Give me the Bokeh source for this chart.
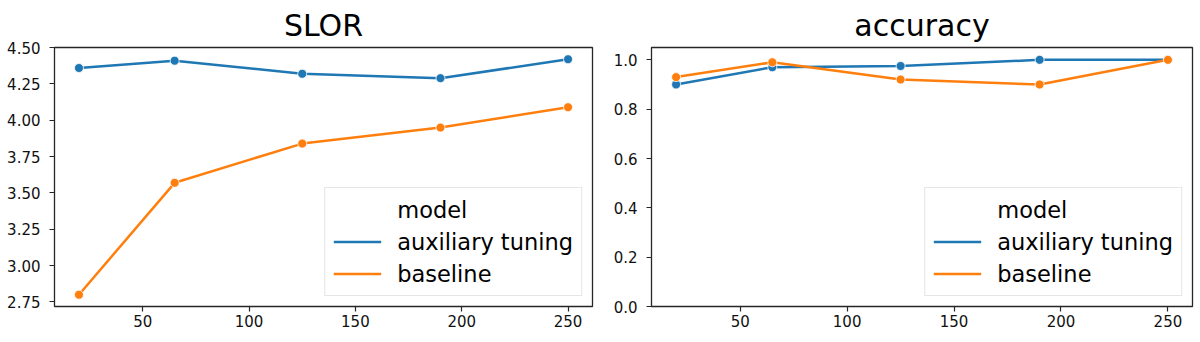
from bokeh.plotting import figure
from bokeh.models import (Range1d, FixedTicker, NumeralTickFormatter, Legend, LegendItem,
                          ColumnDataSource)
from bokeh.layouts import row
from bokeh.embed import file_html
from bokeh.resources import INLINE

# ---- data ----
steps = [20, 65, 125, 190, 250]
model_names = ["auxiliary tuning", "baseline"]
slor_aux = [4.36, 4.41, 4.32, 4.29, 4.42]
slor_base = [2.80, 3.57, 3.84, 3.95, 4.09]
acc_aux = [0.90, 0.97, 0.975, 1.00, 1.00]
acc_base = [0.93, 0.99, 0.92, 0.90, 1.00]
x_ticks = [50, 100, 150, 200, 250]
slor_ticks = [2.75, 3.00, 3.25, 3.50, 3.75, 4.00, 4.25, 4.50]
acc_ticks = [0.0, 0.2, 0.4, 0.6, 0.8, 1.0]

COLORS = ["#1f77b4", "#ff7f0e"]
FONT = "DejaVu Sans"
FRAME = "#262626"


def make_panel(title, series, yticks, yfmt, yrange, left_border):
    xmin, xmax = min(steps), max(steps)
    xpad = 0.05 * (xmax - xmin)
    p = figure(width=600, height=342, output_backend="svg", toolbar_location=None,
               x_range=Range1d(xmin - xpad, xmax + xpad), y_range=Range1d(*yrange),
               min_border_left=left_border, min_border_right=8,
               min_border_top=44, min_border_bottom=36)
    p.title.text = title
    p.title.align = "center"
    p.title.text_font = FONT
    p.title.text_font_size = "30px"
    p.title.text_font_style = "normal"
    p.title.text_color = "#000000"
    p.xgrid.visible = False
    p.ygrid.visible = False
    p.outline_line_color = FRAME
    p.outline_line_width = 1.3
    p.outline_line_alpha = 1.0
    p.background_fill_color = "white"
    p.border_fill_color = "white"

    p.xaxis.ticker = FixedTicker(ticks=x_ticks)
    p.yaxis.ticker = FixedTicker(ticks=yticks)
    p.yaxis.formatter = NumeralTickFormatter(format=yfmt)
    for ax in (p.xaxis, p.yaxis):
        ax.axis_line_color = None
        ax.major_tick_line_color = FRAME
        ax.major_tick_line_width = 1.2
        ax.major_tick_out = 5
        ax.major_tick_in = 0
        ax.minor_tick_line_color = None
        ax.major_label_text_font = FONT
        ax.major_label_text_font_size = "15px"
        ax.major_label_text_color = "#111111"
    p.xaxis.major_label_standoff = 3
    p.yaxis.major_label_standoff = 9

    blank = p.line(x=[], y=[], line_alpha=0)
    items = [LegendItem(label="model", renderers=[blank])]
    for name, ys, color in zip(model_names, series, COLORS):
        src = ColumnDataSource(dict(x=steps, y=ys))
        ln = p.line("x", "y", source=src, line_color=color, line_width=2.5)
        p.scatter("x", "y", source=src, size=9, fill_color=color,
                  line_color="white", line_width=0.8)
        items.append(LegendItem(label=name, renderers=[ln]))

    leg = Legend(items=items, location="bottom_right")
    leg.label_text_font = FONT
    leg.label_text_font_size = "22.5px"
    leg.label_text_color = "#000000"
    leg.glyph_width = 48
    leg.glyph_height = 27
    leg.label_height = 27
    leg.label_standoff = 16
    leg.padding = 8
    leg.spacing = 5
    leg.margin = 10
    leg.border_line_color = "#cccccc"
    leg.border_line_width = 1
    leg.background_fill_alpha = 0.8
    p.add_layout(leg, "center")
    return p


slor_all = slor_aux + slor_base
lo, hi = min(slor_all), max(slor_all)
pad = 0.05 * (hi - lo)
p1 = make_panel("SLOR", [slor_aux, slor_base], slor_ticks, "0.00", (lo - pad, hi + pad), 54)
p2 = make_panel("accuracy", [acc_aux, acc_base], acc_ticks, "0.0", (0.0, 1.05), 51)

layout = row(p1, p2)
open("out.html", "w").write(file_html(layout, INLINE))
